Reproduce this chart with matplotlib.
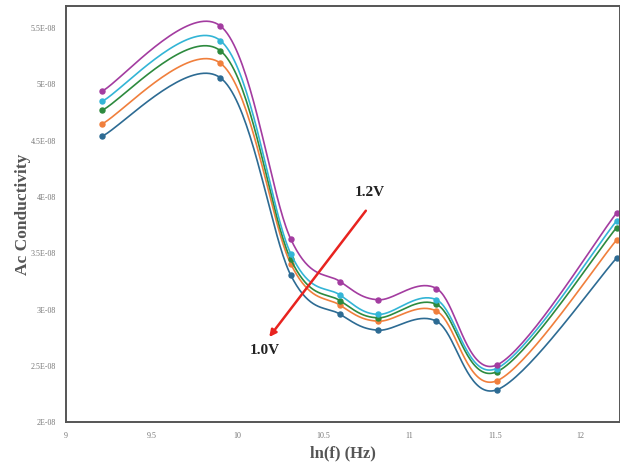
import numpy as np
import matplotlib
matplotlib.use("Agg")
import matplotlib.pyplot as plt

# ln of measurement frequency (10 kHz ... 200 kHz)
ln_f = [9.21, 9.90, 10.31, 10.60, 10.82, 11.16, 11.51, 12.21]

# AC conductivity for each applied voltage step
sigma_v1 = [4.53e-8, 5.05e-8, 3.30e-8, 2.95e-8, 2.81e-8, 2.89e-8, 2.28e-8, 3.45e-8]
sigma_v2 = [4.64e-8, 5.18e-8, 3.40e-8, 3.03e-8, 2.89e-8, 2.98e-8, 2.36e-8, 3.61e-8]
sigma_v3 = [4.76e-8, 5.29e-8, 3.44e-8, 3.07e-8, 2.92e-8, 3.04e-8, 2.44e-8, 3.72e-8]
sigma_v4 = [4.84e-8, 5.38e-8, 3.49e-8, 3.12e-8, 2.95e-8, 3.08e-8, 2.47e-8, 3.78e-8]
sigma_v5 = [4.93e-8, 5.51e-8, 3.62e-8, 3.24e-8, 3.08e-8, 3.18e-8, 2.50e-8, 3.85e-8]

series = [sigma_v1, sigma_v2, sigma_v3, sigma_v4, sigma_v5]
colors = ["#2d6b93", "#f07f3c", "#2d8a3e", "#33b5d6", "#a33ca0"]

x_ticks = [9, 9.5, 10, 10.5, 11, 11.5, 12]
x_tick_labels = ["9", "9.5", "10", "10.5", "11", "11.5", "12"]
y_ticks = [2e-8, 2.5e-8, 3e-8, 3.5e-8, 4e-8, 4.5e-8, 5e-8, 5.5e-8]
y_tick_labels = ["2E-08", "2.5E-08", "3E-08", "3.5E-08", "4E-08",
                 "4.5E-08", "5E-08", "5.5E-08"]


def smooth(xs, ys, n=40):
    """Bezier smoothing through every point (spreadsheet-style smoothed line)."""
    p = np.column_stack([xs, ys])
    p_ext = np.vstack([p[0], p, p[-1]])
    out = []
    t = np.linspace(0, 1, n)[:, None]
    for i in range(len(p) - 1):
        p0, p1 = p_ext[i + 1], p_ext[i + 2]
        c1 = p0 + (p_ext[i + 2] - p_ext[i]) / 6.0
        c2 = p1 - (p_ext[i + 3] - p_ext[i + 1]) / 6.0
        seg = ((1 - t) ** 3) * p0 + 3 * ((1 - t) ** 2) * t * c1 \
            + 3 * (1 - t) * t ** 2 * c2 + t ** 3 * p1
        out.append(seg if i == 0 else seg[1:])
    curve = np.vstack(out)
    return curve[:, 0], curve[:, 1]


fig = plt.figure(figsize=(6.2, 4.64), dpi=100)
ax = fig.add_axes([66 / 620, 1 - 422.5 / 464, 1 - 66 / 620, (422.5 - 7) / 464])

for ys, c in zip(series, colors):
    sx, sy = smooth(ln_f, ys)
    ax.plot(sx, sy, color=c, lw=1.2, solid_capstyle="round")
    ax.plot(ln_f, ys, "o", color=c, ms=3.6, mec=c)

ax.set_xlim(9, 12.23)
ax.set_ylim(2e-8, 5.687e-8)
ax.set_xticks(x_ticks)
ax.set_xticklabels(x_tick_labels)
ax.set_yticks(y_ticks)
ax.set_yticklabels(y_tick_labels)
ax.tick_params(length=0, labelsize=5.8, labelcolor="#777777", pad=7)
for lab in ax.get_xticklabels() + ax.get_yticklabels():
    lab.set_family("Liberation Serif")

for side in ["left", "bottom", "top", "right"]:
    ax.spines[side].set_color("#555555")
    ax.spines[side].set_linewidth(1.4)

ax.set_xlabel("ln(f) (Hz)", fontsize=12, fontweight="bold",
              family="Liberation Serif", color="#555555", labelpad=4)
ax.set_ylabel("Ac Conductivity", fontsize=12.5, fontweight="bold",
              family="Liberation Serif", color="#555555", labelpad=0)

# voltage direction arrow
ax.annotate("", xy=(10.175, 2.73e-8), xytext=(10.758, 3.89e-8),
            arrowprops=dict(arrowstyle="-|>", color="#e8231f", lw=1.8,
                            mutation_scale=10))
ax.text(10.77, 4.045e-8, "1.2V", fontsize=11, fontweight="bold",
        family="Liberation Serif", color="#222222", ha="center", va="center")
ax.text(10.16, 2.643e-8, "1.0V", fontsize=11, fontweight="bold",
        family="Liberation Serif", color="#222222", ha="center", va="center")

fig.savefig("out.png", dpi=100)
